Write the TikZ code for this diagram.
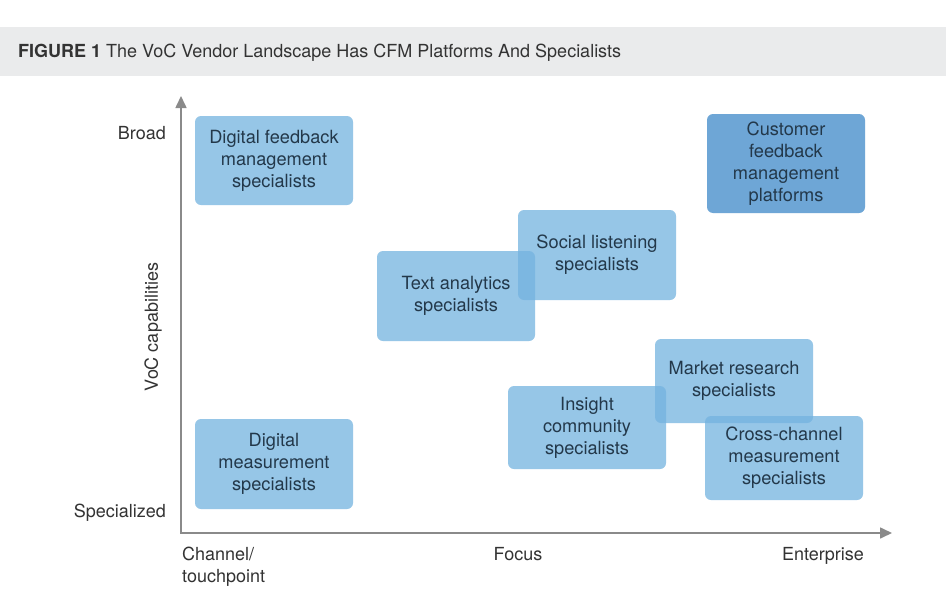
\documentclass[tikz,border=0pt]{standalone}
\usepackage{fontspec}
\setmainfont{TeX Gyre Heros}
\usetikzlibrary{arrows.meta}
\definecolor{hdr}{HTML}{EAEBEC}
\definecolor{boxc}{HTML}{74B3E0}
\definecolor{boxd}{HTML}{5F9DD2}
\definecolor{boxtxt}{HTML}{23384A}
\definecolor{axc}{HTML}{8A8A8A}
\definecolor{lbl}{HTML}{333333}
\tikzset{
  vbox/.style={rounded corners=6pt, fill=boxc, fill opacity=0.75, text opacity=1,
    text=boxtxt, align=center, font=\fontsize{18.2}{22}\selectfont, inner sep=0pt,
    minimum width=158pt, minimum height=89pt},
  vboxdark/.style={vbox, fill=boxd, fill opacity=0.9},
  axis/.style={draw=axc, line width=1.6pt, -{Triangle[length=12pt,width=11pt]}},
  axlbl/.style={text=lbl, font=\fontsize{18}{22}\selectfont, inner sep=0pt}
}
\begin{document}
\begin{tikzpicture}[x=1pt,y=-1pt]
\useasboundingbox (0,0) rectangle (946,616);
\fill[white] (0,0) rectangle (946,616);
\fill[hdr] (0,27) rectangle (946,76);
\node[anchor=west, text=lbl, inner sep=0pt, font=\fontsize{18}{20}\selectfont] (title) at (18,53)
  {\textbf{FIGURE 1} The VoC Vendor Landscape Has CFM Platforms And Specialists};
% axes
\coordinate (origin) at (181,533);
\coordinate (ytip) at (181,96);
\coordinate (xtip) at (892,533);
\draw[axis] (origin) -- (ytip);
\draw[axis] ([xshift=-0.8pt]origin) -- (xtip);
% boxes
\node[vbox] (dfm) at (274,160.5) {Digital feedback\\management\\specialists};
\node[vboxdark, minimum height=99pt] (cfm) at (786,163.5) {Customer\\feedback\\management\\platforms};
\node[vbox, minimum height=90pt] (soc) at (597,255) {Social listening\\specialists};
\node[vbox, minimum height=90pt] (txt) at (456,296) {Text analytics\\specialists};
\node[vbox, minimum height=84pt] (mkt) at (734,381) {Market research\\specialists};
\node[vbox, minimum height=83pt] (ins) at (587,427.5) {Insight\\community\\specialists};
\node[vbox, minimum height=84pt] (ccm) at (784,458) {Cross-channel\\measurement\\specialists};
\node[vbox, minimum height=90pt] (dms) at (274,464) {Digital\\measurement\\specialists};
% axis labels
\node[axlbl, anchor=east] (broad) at (166,133) {Broad};
\node[axlbl, anchor=east] (spec) at (166,513) {Specialized};
\node[axlbl, rotate=90] (voc) at (153,327) {VoC capabilities};
\node[axlbl, anchor=north west, align=left] (chan) at (182,547) {Channel/\\touchpoint};
\node[axlbl, anchor=north] (focus) at (518,547) {Focus};
\node[axlbl, anchor=north] (ent) at (823,547) {Enterprise};
\end{tikzpicture}
\end{document}
